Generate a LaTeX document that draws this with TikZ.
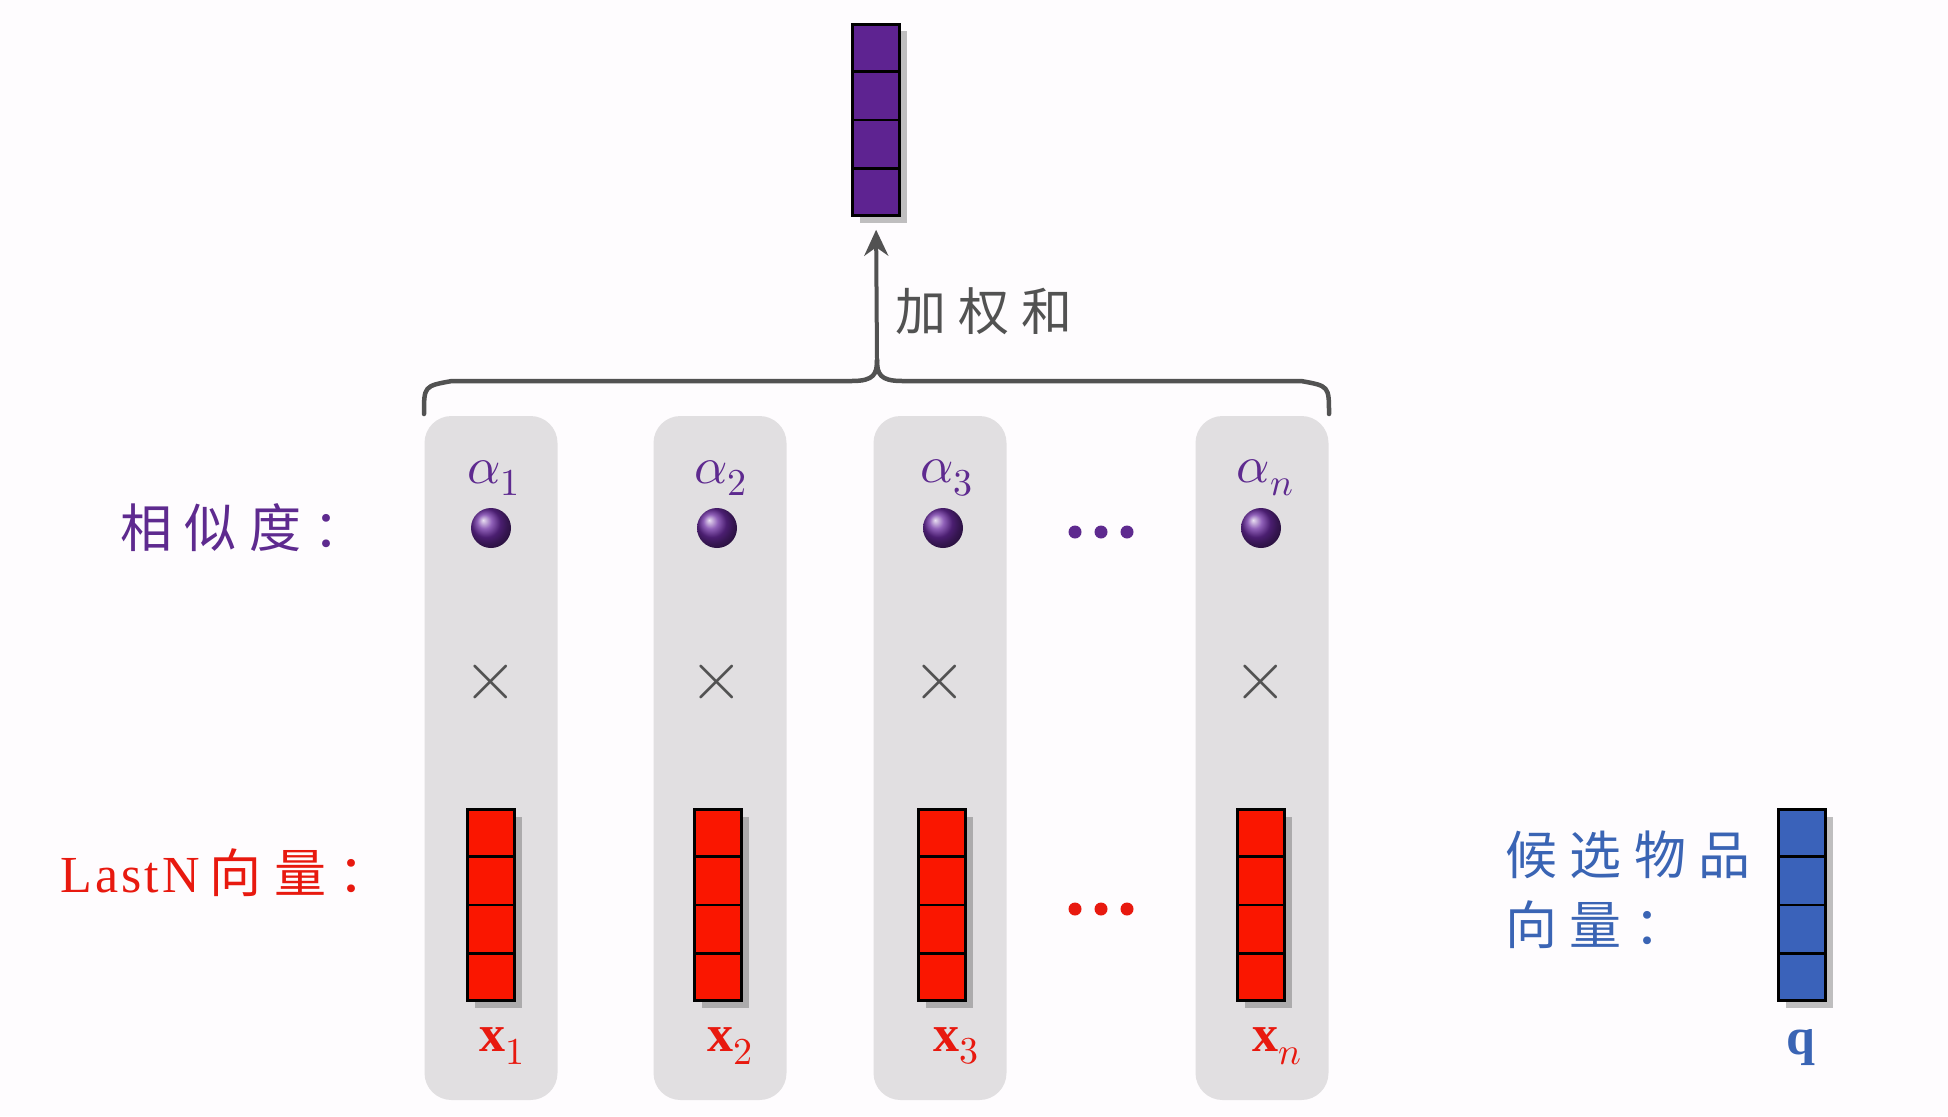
\documentclass[tikz,border=0pt]{standalone}
\usepackage{fontspec}
\usepackage{unicode-math}
\setmainfont{Liberation Serif}
\setmathfont{Latin Modern Math}
\newfontfamily\cjk[LetterSpace=24]{Noto Sans CJK SC}
\newfontfamily\latn[LetterSpace=6]{Liberation Serif}
\usetikzlibrary{shadows,arrows.meta,calc}
\definecolor{bgc}{HTML}{FEFCFE}
\definecolor{colgray}{HTML}{E1DFE1}
\definecolor{ptext}{HTML}{5E2A8F}
\definecolor{pfill}{HTML}{5E2391}
\definecolor{pball}{HTML}{6A2BA0}
\definecolor{rfill}{HTML}{FA1600}
\definecolor{rtext}{HTML}{E8190F}
\definecolor{bfill}{HTML}{3A62BA}
\definecolor{btext}{HTML}{3A64B4}
\definecolor{dgray}{HTML}{525252}
\newcommand\bigf{\fontsize{52}{62}\selectfont}
\newcommand\sbs[1]{\hbox{\fontsize{38}{40}\selectfont$#1$}}
\begin{document}
\begin{tikzpicture}[x=1pt,y=-1pt,
  colbg/.style={fill=colgray, rounded corners=27, minimum width=133, minimum height=684, inner sep=0, draw=none},
  vec/.style={minimum width=47, minimum height=191, inner sep=0, draw=black, line width=2.5,
    drop shadow={shadow xshift=7pt, shadow yshift=-7pt, opacity=0.35, fill=black!70}},
  ballst/.style={circle, minimum size=40, inner sep=0, shading=ball, ball color=pball},
  lab/.style={inner sep=0, font=\bigf},
  timesst/.style={inner sep=0, text=dgray, font=\fontsize{70}{80}\selectfont},
  brace/.style={draw=dgray, line width=4.5, line join=round, line cap=round},
  arr/.style={draw=dgray, line width=4, -{Stealth[length=26pt,width=24pt]}, shorten >=13pt}
]
\fill[bgc] (0,0) rectangle (1948,1116);
\useasboundingbox (0,0) rectangle (1948,1116);

% columns
\foreach \x/\n in {491/1,720/2,940/3,1262/4}
  \node[colbg] (c\n) at (\x,758) {};

% output vector
\node[vec, fill=pfill] (pv) at (876,120) {};

% red vectors
\foreach \x/\n in {491/1,718/2,942/3,1261/4}
  \node[vec, fill=rfill] (r\n) at (\x,905) {};
% blue vector
\node[vec, fill=bfill] (qv) at (1802,905) {};

\foreach \v in {pv,r1,r2,r3,r4,qv}
  \foreach \f in {0.25,0.5,0.75}
    \draw[line width=2.5] ($(\v.north west)!\f!(\v.south west)$) -- ($(\v.north east)!\f!(\v.south east)$);

% balls
\foreach \x/\n in {491/1,717/2,943/3,1261/4}
  \node[ballst] (b\n) at (\x,528) {};

% alpha labels
\node[lab, text=ptext] (a1) at (494,478) {$\alpha_{\sbs{1}}$};
\node[lab, text=ptext] (a2) at (721,478) {$\alpha_{\sbs{2}}$};
\node[lab, text=ptext] (a3) at (947,478) {$\alpha_{\sbs{3}}$};
\node[lab, text=ptext] (a4) at (1265,478) {$\alpha_{\sbs{n}}$};

% times
\foreach \x/\n in {491/1,717/2,940/3,1261/4}
  \node[timesst] (m\n) at (\x,682) {$\times$};

% x labels
\node[lab, text=rtext] (x1) at (502,1046) {$\mathbf{x}_{\sbs{1}}$};
\node[lab, text=rtext] (x2) at (730,1046) {$\mathbf{x}_{\sbs{2}}$};
\node[lab, text=rtext] (x3) at (956,1046) {$\mathbf{x}_{\sbs{3}}$};
\node[lab, text=rtext] (x4) at (1277,1046) {$\mathbf{x}_{\sbs{n}}$};
\node[lab, text=btext] (ql) at (1801,1048) {$\mathbf{q}$};

% dots
\foreach \dx in {-26,0,26} {
  \fill[ptext] (1101+\dx,532) circle (6.5);
  \fill[rtext] (1101+\dx,909) circle (6.5);
}

% side labels
\node[lab, anchor=west, text=ptext] (sim) at (120,528) {\cjk 相似度：};
\node[lab, anchor=west, text=rtext] (lastn) at (60,873) {{\latn LastN}\hspace{10pt}{\cjk 向量：}};
\node[lab, anchor=west, text=btext] (cand1) at (1505,855) {\cjk 候选物品};
\node[lab, anchor=west, text=btext] (cand2) at (1505,925) {\cjk 向量：};
\node[lab, anchor=west, text=dgray, font=\fontsize{51}{60}\selectfont] (ws) at (895,311) {\cjk 加权和};

% brace
\coordinate (bt) at (877,360);
\draw[brace] (424,414) .. controls (424,386) .. (452,381) -- (852,381) .. controls (874,381) and (877,374) .. (bt);
\draw[brace] (1329,414) .. controls (1329,386) .. (1301,381) -- (902,381) .. controls (880,381) and (877,374) .. (bt);

% arrow
\draw[arr] (bt) -- (pv.south);
\end{tikzpicture}
\end{document}
